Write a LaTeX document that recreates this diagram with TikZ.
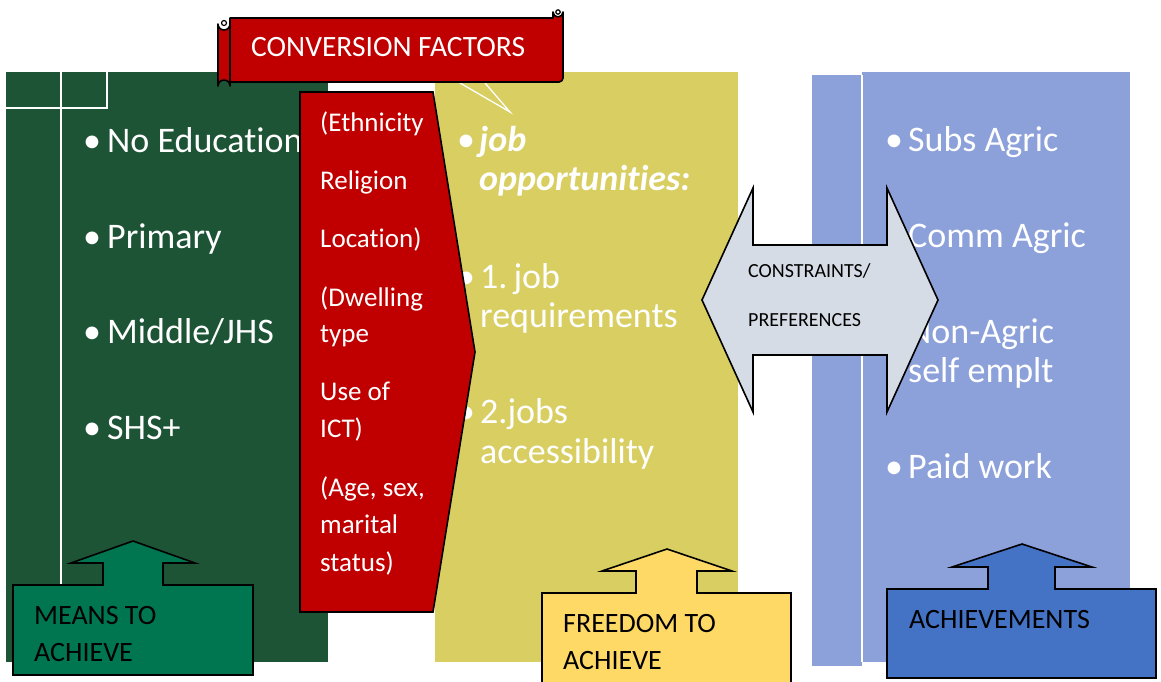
\documentclass[tikz,border=0pt]{standalone}
\usepackage{fontspec}
\setmainfont{Carlito}[RawFeature={-liga;-clig;-calt}]
\definecolor{gpanel}{RGB}{30,84,54}
\definecolor{ypanel}{RGB}{216,206,98}
\definecolor{bpanel}{RGB}{140,160,218}
\definecolor{redf}{RGB}{192,0,0}
\definecolor{gcall}{RGB}{0,118,80}
\definecolor{ycall}{RGB}{255,217,102}
\definecolor{bcall}{RGB}{68,114,196}
\definecolor{arrowf}{RGB}{214,220,229}
\tikzset{
  wt/.style={text=white, inner sep=0pt, anchor=base west, font=\fontsize{36}{43}\selectfont},
  wtb/.style={wt, font=\fontsize{36}{43}\selectfont\bfseries\itshape},
  bul/.style={text=white, inner sep=0pt, anchor=base, font=\fontsize{36}{43}\selectfont},
  rt/.style={text=white, inner sep=0pt, anchor=base west, font=\fontsize{27}{32}\selectfont},
  bt/.style={text=black, inner sep=0pt, anchor=base west, font=\fontsize{28}{34}\selectfont},
  ct/.style={text=black, inner sep=0pt, anchor=base west, font=\fontsize{20}{24}\selectfont},
  outl/.style={draw=black, line width=1.6pt, line join=miter},
  wline/.style={draw=white, line width=1.6pt},
}
\begin{document}
\begin{tikzpicture}[x=1pt,y=-1pt]
\useasboundingbox (0,0) rectangle (1161,681);
\clip (0,0) rectangle (1161,681);
\fill[white] (0,0) rectangle (1161,681);
% panels
\fill[gpanel] (6,72) rectangle (328,662);
\fill[ypanel] (435,72) rectangle (738,662);
\fill[bpanel] (812,75) rectangle (862,666);
\fill[bpanel] (862,72) rectangle (1130,662);
% white lines on panels
\draw[wline] (6,108) -- (107,108) -- (107,72);
\draw[wline] (61,72) -- (61,585);
\draw[wline] (862,75) -- (862,662);
% green texts
\node[bul] (gb1) at (92,152) {•};
\node[wt] (g1) at (107,152) {No Education};
\node[bul] (gb2) at (92,248) {•};
\node[wt] (g2) at (107,248) {Primary};
\node[bul] (gb3) at (92,343) {•};
\node[wt] (g3) at (107,343) {Middle/JHS};
\node[bul] (gb4) at (92,439) {•};
\node[wt] (g4) at (107,439) {SHS+};
% yellow texts
\node[bul] (yb1) at (466,151) {•};
\node[wtb] (y1) at (479,151) {job};
\node[wtb] (y2) at (479,190) {opportunities:};
\node[bul] (yb2) at (466,288) {•};
\node[wt] (y3) at (480,288) {1.\,job};
\node[wt] (y4) at (480,327) {requirements};
\node[bul] (yb3) at (466,423) {•};
\node[wt] (y5) at (480,423) {2.jobs};
\node[wt] (y6) at (480,463) {accessibility};
% blue texts
\node[bul] (bb1) at (894,151) {•};
\node[wt] (b1) at (908,151) {Subs Agric};
\node[bul] (bb2) at (894,247) {•};
\node[wt] (b2) at (908,247) {Comm Agric};
\node[bul] (bb3) at (894,343) {•};
\node[wt] (b3) at (908,343) {Non-Agric};
\node[wt] (b4) at (908,382) {self emplt};
\node[bul] (bb4) at (894,478) {•};
\node[wt] (b5) at (908,478) {Paid work};
% white callout pointer lines
\draw[white, line width=1.3pt] (460,83) -- (510,112) -- (485,83);
% red pentagon
\draw[outl, fill=redf] (300,92) -- (433,92) -- (475,352) -- (433,612) -- (300,612) -- cycle;
\node[rt] (r1) at (320,131) {(Ethnicity};
\node[rt] (r2) at (320,189) {Religion};
\node[rt] (r3) at (320,247) {Location)};
\node[rt] (r4) at (320,306) {(Dwelling};
\node[rt] (r5) at (320,342) {type};
\node[rt] (r6) at (320,400) {Use of};
\node[rt] (r7) at (320,437) {ICT)};
\node[rt] (r8) at (320,496) {(Age, sex,};
\node[rt] (r9) at (320,533) {marital};
\node[rt] (r10) at (320,571) {status)};
% scroll banner
\draw[outl, fill=redf, line join=round] (230,18) -- (553,18) -- (553,12)
   arc[start angle=180, end angle=0, radius=5] -- (563,78)
   arc[start angle=0, end angle=90, radius=4] -- (230,82) -- cycle;
\draw[black, line width=1.2pt] (558,12) circle[radius=2.2];
\draw[outl, fill=redf, line join=round] (218,24) arc[start angle=180, end angle=0, radius=6]
   -- (230,86) arc[start angle=0, end angle=-180, radius=6] -- cycle;
\draw[black, line width=1.2pt] (224,23) circle[radius=2.5];
\node[text=white, inner sep=0pt, anchor=base west, font=\fontsize{29.5}{34}\selectfont] (cf) at (251,56) {CONVERSION FACTORS};
% double arrow
\draw[outl, fill=arrowf] (702,300) -- (753,188) -- (753,245) -- (887,245) -- (887,188)
   -- (938,300) -- (887,412) -- (887,355) -- (753,355) -- (753,412) -- cycle;
\node[ct] (c1) at (748,277) {CONSTRAINTS/};
\node[ct] (c2) at (748,326) {PREFERENCES};
% up-arrow callouts
\draw[outl, fill=gcall] (13,585) -- (103,585) -- (103,563) -- (71,563) -- (133,541) -- (195,563)
   -- (163,563) -- (163,585) -- (253,585) -- (253,675) -- (13,675) -- cycle;
\node[bt] (m1) at (34,624) {MEANS TO};
\node[bt] (m2) at (34,661) {ACHIEVE};
\draw[outl, fill=ycall] (542,593) -- (636,593) -- (636,571) -- (602,571) -- (667,549) -- (732,571)
   -- (697,571) -- (697,593) -- (791,593) -- (791,700) -- (542,700) -- cycle;
\node[bt] (f1) at (563,632) {FREEDOM TO};
\node[bt] (f2) at (563,669) {ACHIEVE};
\draw[outl, fill=bcall] (887,589) -- (988,589) -- (988,567) -- (952,567) -- (1022,544) -- (1092,567)
   -- (1055,567) -- (1055,589) -- (1156,589) -- (1156,678) -- (887,678) -- cycle;
\node[bt] (a1) at (909,628) {ACHIEVEMENTS};
\end{tikzpicture}
\end{document}
